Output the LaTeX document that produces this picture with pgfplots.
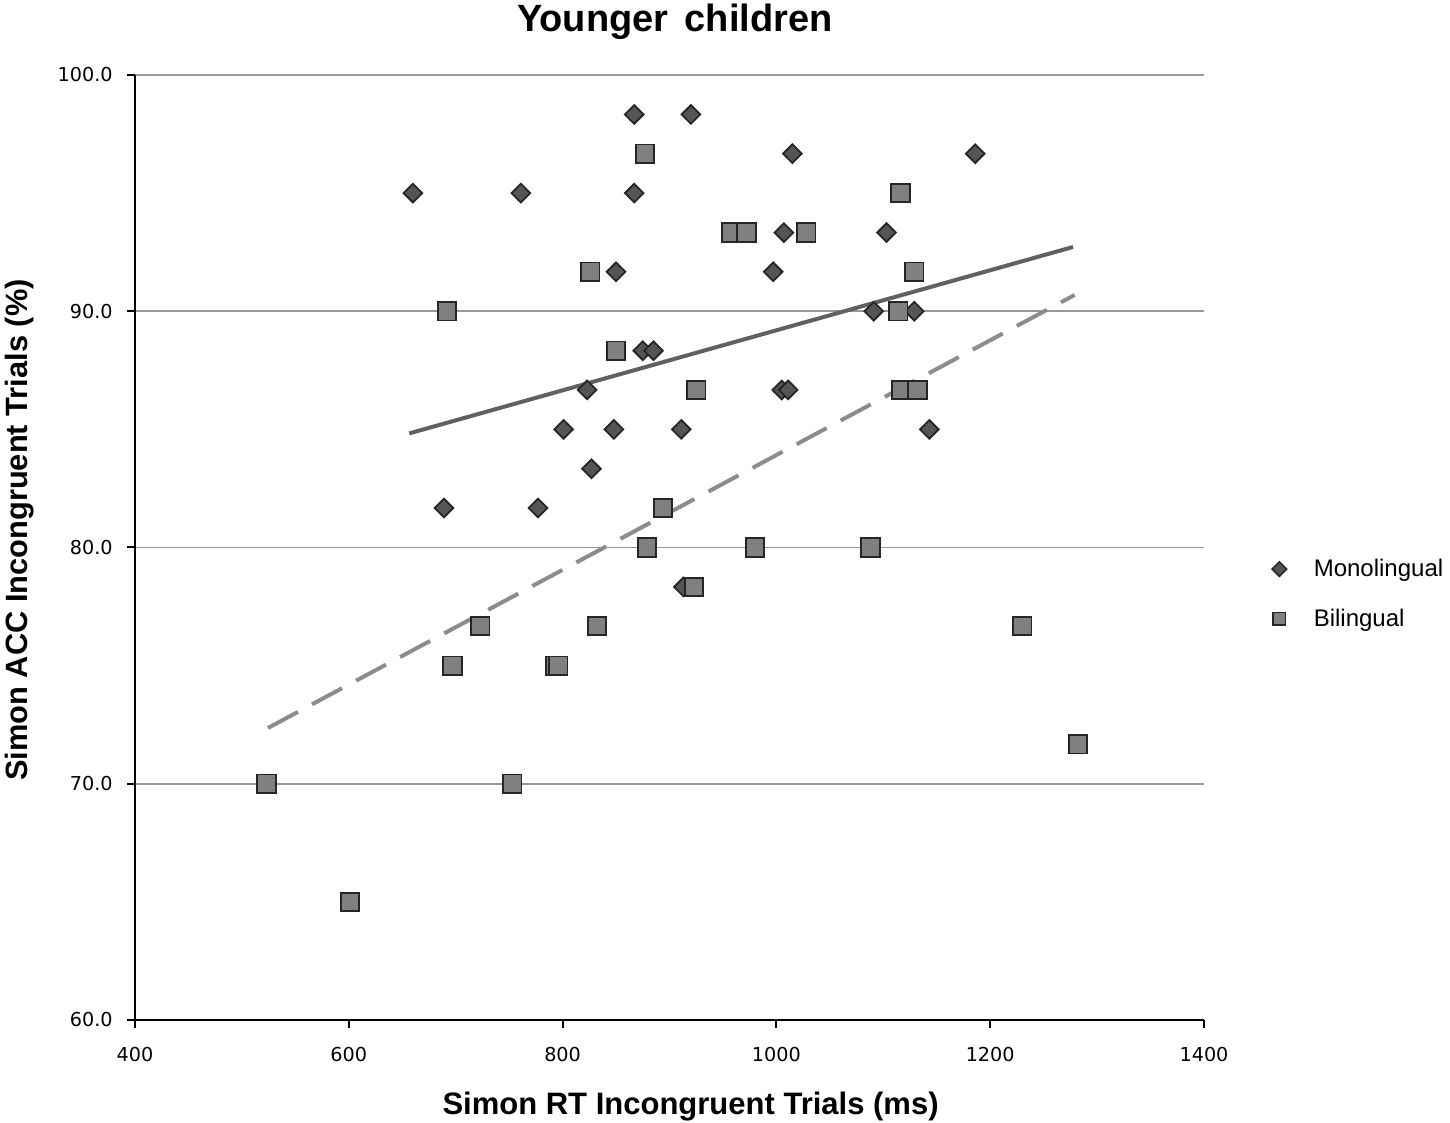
\documentclass[border=0pt]{standalone}
\usepackage{pgfplots}
\pgfplotsset{compat=1.18}
\usepackage{fontspec}
\setmainfont{Liberation Sans}
\newfontfamily\tickfont{DejaVu Sans}
\definecolor{monofill}{HTML}{555555}
\definecolor{bilifill}{HTML}{808080}
\definecolor{markedge}{HTML}{262626}
\definecolor{monoline}{HTML}{606060}
\definecolor{biline}{HTML}{8C8C8C}
\definecolor{gridc}{HTML}{999999}

\pgfplotstableread{
x y
660 95.00
761 95.00
867 98.33
920 98.33
867 95.00
1015 96.67
1186 96.67
850 91.67
997 91.67
1007 93.33
1103 93.33
875 88.33
885 88.33
823 86.67
1005 86.67
1011 86.67
1091 90.00
1129 90.00
801 85.00
848 85.00
911 85.00
1143 85.00
827 83.33
689 81.67
777 81.67
913 78.33
}\mono

\pgfplotstableread{
x y
877 96.67
1116 95.00
958 93.33
972 93.33
1028 93.33
826 91.67
1129 91.67
692 90.00
1114 90.00
850 88.33
925 86.67
1117 86.67
1132 86.67
894 81.67
879 80.00
980 80.00
1088 80.00
923 78.33
723 76.67
832 76.67
1230 76.67
697 75.00
793 75.00
796 75.00
523 70.00
753 70.00
1282 71.67
601 65.00
}\bili

\begin{document}
\begin{tikzpicture}
\begin{axis}[
  name=ax,
  scale only axis,
  width=534.5pt, height=472.5pt,
  xmin=400, xmax=1400, ymin=60, ymax=100,
  xtick={400,600,800,1000,1200,1400},
  ytick={60,70,80,90,100},
  axis x line=bottom, axis y line=left,
  axis line style={-, black, line width=1pt},
  tick style={black, line width=1pt},
  major tick length=4pt,
  tick align=outside,
  ymajorgrids,
  grid style={gridc, line width=0.8pt},
  /pgf/number format/assume math mode=true,
  xticklabel={\pgfmathprintnumber[1000 sep={}]{\tick}},
  yticklabel={\pgfmathprintnumber[fixed,fixed zerofill,precision=1]{\tick}},
  xticklabel style={font=\tickfont\fontsize{9.6}{11}\selectfont, anchor=north, inner sep=0pt, yshift=-9.5pt},
  yticklabel style={font=\tickfont\fontsize{9.6}{11}\selectfont, anchor=east, inner sep=0pt, xshift=-7pt},
  every axis title/.style={at={(0.505,1.0455)}, anchor=base, inner sep=0pt, font=\bfseries\fontsize{19}{21}\selectfont},
  every axis x label/.style={at={(0.5197,-0.1005)}, anchor=base, inner sep=0pt, font=\bfseries\fontsize{15.5}{18}\selectfont},
  every axis y label/.style={at={(-0.1010,0.5185)}, anchor=base, rotate=90, inner sep=0pt, font=\bfseries\fontsize{15.4}{18}\selectfont},
  title={Younger\hspace{0.43em}children},
  xlabel={Simon RT Incongruent Trials (ms)},
  ylabel={Simon ACC Incongruent Trials (\%)},
  legend style={draw=none, fill=none, at={(1,0.4508)}, anchor=west, xshift=29.5pt,
    inner sep=0pt, outer sep=0pt, row sep=14.7pt, column sep=9pt,
    nodes={inner sep=0pt}, font=\fontsize{12}{14}\selectfont},
  legend cell align=left,
  legend image code/.code={\path (-8pt,0pt) (8pt,0pt); \draw[#1] plot coordinates {(0pt,0pt)};},
  clip=false,
]
\addplot[forget plot, only marks, mark=square*, mark size=3.3pt,
  mark options={rotate=45, fill=monofill, draw=markedge, line width=0.9pt}] table[x=x,y=y] {\mono};
\addplot[forget plot, only marks, mark=square*, mark size=4.6pt,
  mark options={fill=bilifill, draw=markedge, line width=0.9pt}] table[x=x,y=y] {\bili};
\addplot[forget plot, monoline, line width=2pt] coordinates {(656.6,84.83) (1277.5,92.72)};
\addplot[forget plot, biline, line width=2pt, dash pattern=on 17pt off 8pt] coordinates {(524.4,72.36) (1279,90.69)};
\addlegendimage{only marks, mark=square*, mark size=2.55pt, mark options={rotate=45, fill=monofill, draw=markedge, line width=0.8pt}}
\addlegendentry{Monolingual}
\addlegendimage{only marks, mark=square*, mark size=3.1pt, mark options={fill=bilifill, draw=markedge, line width=0.8pt}}
\addlegendentry{Bilingual}
\end{axis}
\pgfresetboundingbox
\path ([xshift=-67.5pt,yshift=-51.5pt]ax.south west) rectangle ([xshift=123pt,yshift=37.5pt]ax.north east);
\end{tikzpicture}
\end{document}
